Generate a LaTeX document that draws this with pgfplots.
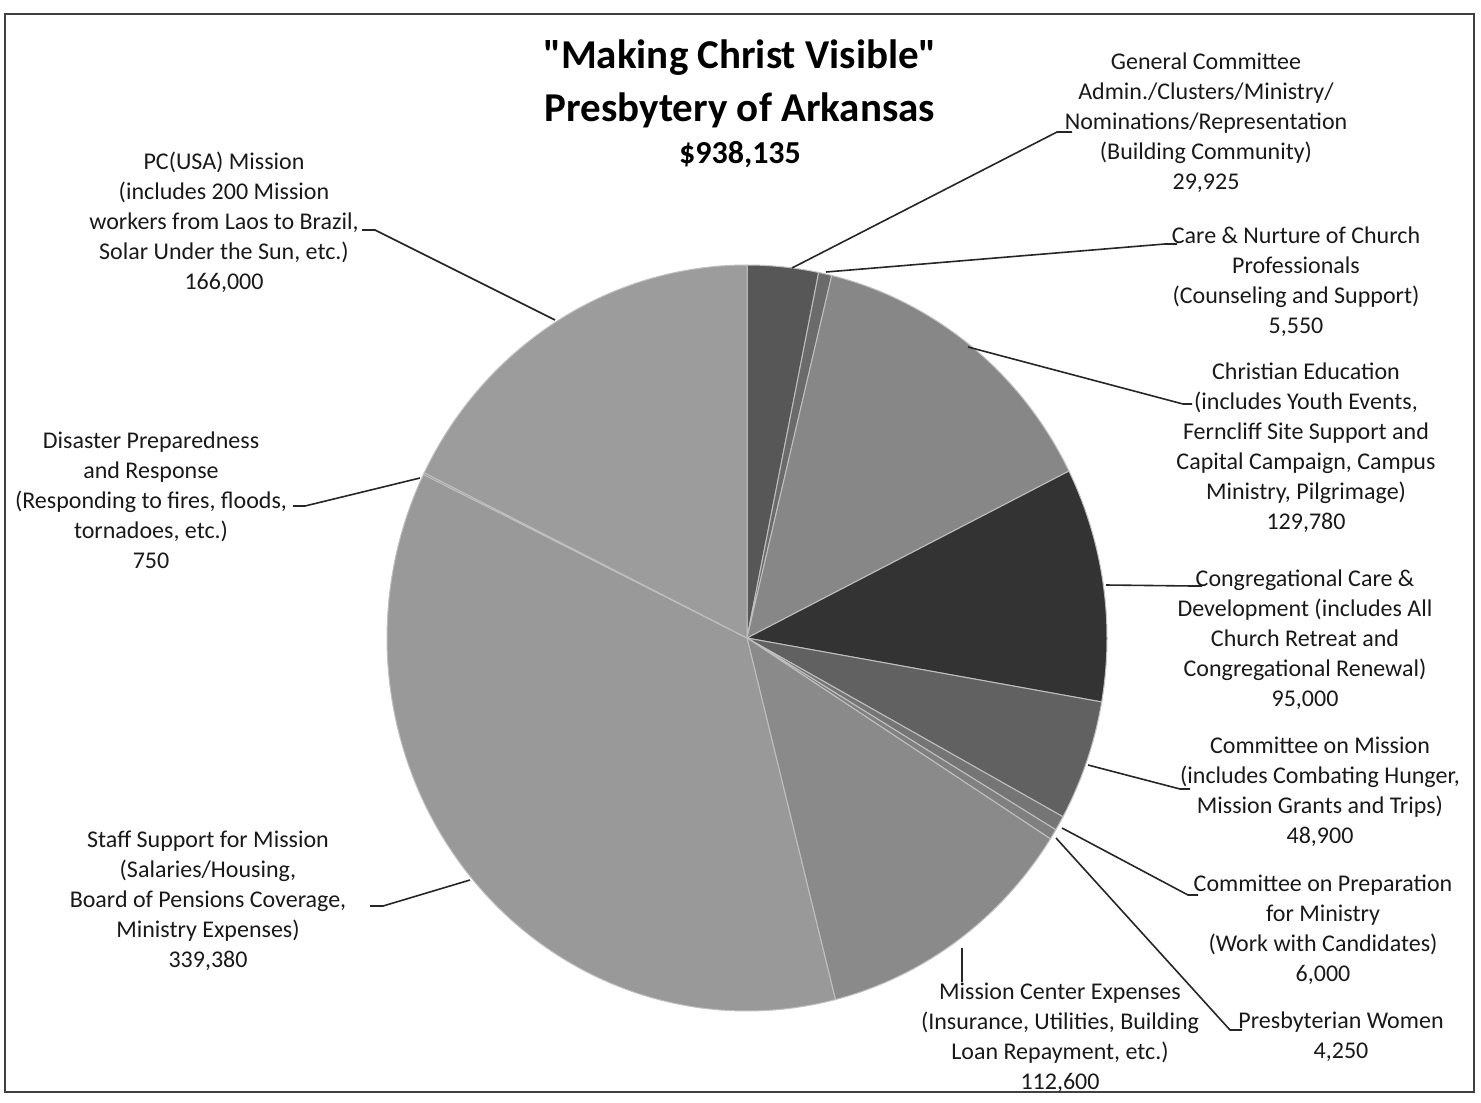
\documentclass[border=0pt]{standalone}
\usepackage{pgfplots}
\usepackage{pgfplotstable}
\pgfplotsset{compat=1.18}
\usepackage{fontspec}
\setmainfont{Carlito}[Ligatures=TeXOff]

% budget lines, clockwise from 12 o'clock; shade = percent black
\pgfplotstableread{
value   shade
29925   66
5550    58
129780  47
95000   80
48900   62
6000    54
4250    50
112600  46
339380  40
750     42
166000  39
}\budget

\begin{document}
\begin{tikzpicture}[x=0.5pt,y=-0.5pt]
  \useasboundingbox (0,0) rectangle (1481,1102);
  \draw[line width=0.9pt, black!75] (5,14) rectangle (1474,1092);

  \begin{axis}[
      at={(373.5pt,-319pt)}, anchor=center,
      width=360pt, height=373pt, scale only axis,
      hide axis, clip=false,
      xmin=-1, xmax=1, ymin=-1, ymax=1,
    ]
    \def\total{0}
    \pgfplotsforeachungrouped \i in {0,...,10}{%
      \pgfplotstablegetelem{\i}{value}\of\budget
      \edef\total{\fpeval{\total+\pgfplotsretval}}%
    }
    \def\cum{0}
    \pgfplotsforeachungrouped \i in {0,...,10}{%
      \pgfplotstablegetelem{\i}{value}\of\budget \let\v\pgfplotsretval
      \pgfplotstablegetelem{\i}{shade}\of\budget \let\s\pgfplotsretval
      \edef\a{\fpeval{round(90-360*\cum/\total,4)}}%
      \edef\cum{\fpeval{\cum+\v}}%
      \edef\b{\fpeval{round(90-360*\cum/\total,4)}}%
      \edef\tmp{\noexpand\addplot[draw=white!75!black, line width=0.5pt,
        fill=black!\s, domain=\b:\a, samples=80]
        ({cos(x)},{sin(x)}) -- (axis cs:0,0) -- cycle;}%
      \tmp
    }
  \end{axis}

  % title
  \node[font=\fontsize{20.5}{26}\selectfont\bfseries] at (740,58) {"Making Christ Visible"};
  \node[font=\fontsize{20.5}{26}\selectfont\bfseries] at (740,110) {Presbytery of Arkansas};
  \node[font=\fontsize{16}{20}\selectfont\bfseries] at (740,155) {\$938,135};

  % leader lines
  \begin{scope}[line width=0.8pt, black!85]
    \draw (792,268) -- (1057,132) -- (1072,132);
    \draw (826,272) -- (1165,244) -- (1177,244);
    \draw (968,347) -- (1183,404) -- (1192,404);
    \draw (1106,585) -- (1193,586) -- (1202,586);
    \draw (1088,765) -- (1180,789) -- (1190,789);
    \draw (1062,828) -- (1188,895) -- (1198,895);
    \draw (1056,838) -- (1230,1030) -- (1242,1030);
    \draw (962,948) -- (962,982);
    \draw (470,880) -- (383,906) -- (370,906);
    \draw (420,478) -- (305,506) -- (293,506);
    \draw (555,320) -- (375,230) -- (362,230);
  \end{scope}

  % labels
  \begin{scope}[every node/.style={align=center, inner sep=0pt, text=black!90,
      font=\fontsize{12}{15}\selectfont}]
    \node at (1206,123) {General Committee\\Admin./Clusters/Ministry/\\Nominations/Representation\\(Building Community)\\29,925};
    \node at (1296,282) {Care \& Nurture of Church\\Professionals\\(Counseling and Support)\\5,550};
    \node at (1306,448) {Christian Education\\(includes Youth Events,\\Ferncliff Site Support and\\Capital Campaign, Campus\\Ministry, Pilgrimage)\\129,780};
    \node at (1305,640) {Congregational Care \&\\Development (includes All\\Church Retreat and\\Congregational Renewal)\\95,000};
    \node at (1320,792) {Committee on Mission\\(includes Combating Hunger,\\Mission Grants and Trips)\\48,900};
    \node at (1323,930) {Committee on Preparation\\for Ministry\\(Work with Candidates)\\6,000};
    \node at (1341,1037) {Presbyterian Women\\4,250};
    \node at (1060,1038) {Mission Center Expenses\\(Insurance, Utilities, Building\\Loan Repayment, etc.)\\112,600};
    \node at (208,901) {Staff Support for Mission\\(Salaries/Housing,\\Board of Pensions Coverage,\\Ministry Expenses)\\339,380};
    \node at (151,500) {Disaster Preparedness\\and Response\\(Responding to fires, floods,\\tornadoes, etc.)\\750};
    \node at (224,222) {PC(USA) Mission\\(includes 200 Mission\\workers from Laos to Brazil,\\Solar Under the Sun, etc.)\\166,000};
  \end{scope}
\end{tikzpicture}
\end{document}
